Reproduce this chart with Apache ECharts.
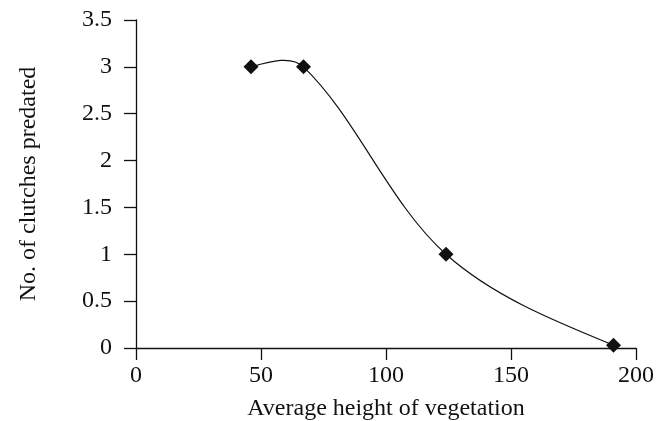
<!DOCTYPE html>
<html>
<head>
<meta charset="utf-8">
<script src="https://cdn.jsdelivr.net/npm/echarts@6/dist/echarts.min.js"></script>
<style>
  html, body { margin: 0; padding: 0; background: #fff; }
  #chart { width: 666px; height: 421px; }
</style>
</head>
<body>
<div id="chart"></div>
<script>
// values
const heights = [46, 67, 124, 191]
const predated = [3, 3, 1, 0.03]
const xTitle = 'Average height of vegetation'
const yTitle = 'No. of clutches predated'

const font = 'Liberation Serif'
const ink = '#111'
const points = heights.map((h, i) => [h, predated[i]])

// spreadsheet-style smoothed line: chord-length catmull-rom turned into bezier segments
function smoothSegment(params, api) {
  let i = params.dataIndex
  if (i >= points.length - 1) return null
  let px = points.map((p) => api.coord(p))
  let dist = (a, b) => Math.hypot(b[0] - a[0], b[1] - a[1])
  let tangent = (k) => {
    let prev = px[Math.max(k - 1, 0)]
    let next = px[Math.min(k + 1, px.length - 1)]
    let d = 0
    if (k > 0) d += dist(px[k - 1], px[k])
    if (k < px.length - 1) d += dist(px[k], px[k + 1])
    return [(next[0] - prev[0]) / d, (next[1] - prev[1]) / d]
  }
  let a = px[i]
  let b = px[i + 1]
  let len = dist(a, b)
  let c1, c2
  if (i > 0) {
    let m = tangent(i)
    c1 = [a[0] + (m[0] * len) / 3, a[1] + (m[1] * len) / 3]
  }
  if (i + 1 < px.length - 1) {
    let m = tangent(i + 1)
    c2 = [b[0] - (m[0] * len) / 3, b[1] - (m[1] * len) / 3]
  }
  // end segments: aim the free control point halfway to the other one
  if (!c1) c1 = [a[0] + (c2[0] - a[0]) / 2, a[1] + (c2[1] - a[1]) / 2]
  if (!c2) c2 = [b[0] + (c1[0] - b[0]) / 2, b[1] + (c1[1] - b[1]) / 2]
  return {
    type: 'bezierCurve',
    shape: {
      x1: a[0], y1: a[1],
      x2: b[0], y2: b[1],
      cpx1: c1[0], cpy1: c1[1],
      cpx2: c2[0], cpy2: c2[1],
    },
    style: { stroke: ink, lineWidth: 1.2, fill: null },
  }
}

let mychart = echarts.init(document.getElementById('chart'))
mychart.setOption({
  animation: false,
  grid: { left: 136, right: 30, top: 20, bottom: 73, outerBoundsMode: 'none', containLabel: false },
  xAxis: {
    type: 'value',
    min: 0,
    max: 200,
    interval: 50,
    name: xTitle,
    nameLocation: 'middle',
    nameGap: 49,
    nameTextStyle: { fontFamily: font, fontSize: 24, color: ink },
    axisLine: { show: true, lineStyle: { color: ink, width: 1.3 } },
    axisTick: { show: true, length: 12, inside: false, lineStyle: { color: ink, width: 1.3 } },
    axisLabel: { fontFamily: font, fontSize: 24, color: ink, margin: 16 },
    splitLine: { show: false },
  },
  yAxis: {
    type: 'value',
    min: 0,
    max: 3.5,
    interval: 0.5,
    name: yTitle,
    nameLocation: 'middle',
    nameGap: 95,
    nameTextStyle: { fontFamily: font, fontSize: 24, color: ink },
    axisLine: { show: true, lineStyle: { color: ink, width: 1.3 } },
    axisTick: { show: true, length: 12, inside: false, lineStyle: { color: ink, width: 1.3 } },
    axisLabel: { fontFamily: font, fontSize: 24, color: ink, margin: 24 },
    splitLine: { show: false },
  },
  series: [
    {
      type: 'custom',
      renderItem: smoothSegment,
      data: points,
      z: 2,
    },
    {
      type: 'scatter',
      data: points,
      symbol: 'diamond',
      symbolSize: 15,
      itemStyle: { color: ink, opacity: 1 },
      z: 3,
    },
  ],
})
</script>
</body>
</html>
